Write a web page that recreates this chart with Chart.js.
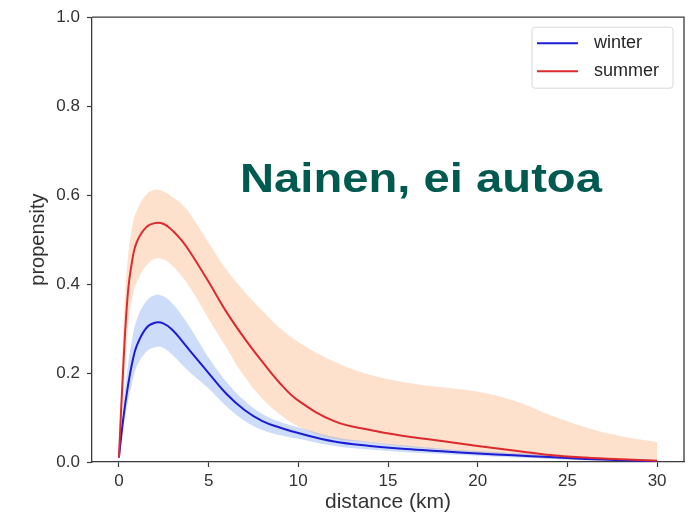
<!DOCTYPE html>
<html>
<head>
<meta charset="utf-8">
<script src="https://cdn.jsdelivr.net/npm/chart.js@4.4.1/dist/chart.umd.min.js"></script>
<style>
  html, body { margin: 0; padding: 0; background: #fff; }
  #wrap { position: relative; width: 690px; height: 521px; }
  #heading {
    position: absolute; left: 240px; top: 158px;
    font: bold 40px "Liberation Sans", Arial, sans-serif; line-height: 40px;
    color: #005a50; white-space: nowrap;
    transform: scaleX(1.18); transform-origin: left top;
  }
</style>
</head>
<body>
<div id="wrap">
  <canvas id="myChart" width="690" height="521"></canvas>
  <div id="heading">Nainen, ei autoa</div>
</div>
<script>
var distance = [0, 0.25, 0.5, 0.75, 1, 1.5, 2, 2.5, 3, 3.5, 4, 5, 6, 7, 8, 9, 10, 12, 14, 16, 18, 20, 22, 24, 26, 28, 30];

var winterMean  = [0.01, 0.1, 0.17, 0.225, 0.262, 0.3, 0.313, 0.311, 0.296, 0.273, 0.248, 0.2, 0.153, 0.117, 0.092, 0.077, 0.065, 0.046, 0.036, 0.029, 0.024, 0.019, 0.015, 0.011, 0.007, 0.004, 0.002];
var winterUpper = [0.012, 0.125, 0.215, 0.28, 0.32, 0.36, 0.375, 0.372, 0.355, 0.33, 0.3, 0.235, 0.18, 0.138, 0.108, 0.09, 0.078, 0.056, 0.045, 0.037, 0.03, 0.025, 0.02, 0.015, 0.01, 0.006, 0.003];
var winterLower = [0.006, 0.075, 0.135, 0.18, 0.215, 0.247, 0.258, 0.256, 0.24, 0.22, 0.2, 0.165, 0.125, 0.093, 0.072, 0.06, 0.052, 0.036, 0.028, 0.022, 0.018, 0.014, 0.01, 0.007, 0.004, 0.002, 0.001];

var summerMean  = [0.01, 0.22, 0.38, 0.455, 0.495, 0.527, 0.537, 0.535, 0.52, 0.498, 0.47, 0.405, 0.337, 0.278, 0.225, 0.176, 0.138, 0.092, 0.072, 0.058, 0.047, 0.036, 0.026, 0.016, 0.01, 0.006, 0.003];
var summerUpper = [0.015, 0.3, 0.46, 0.53, 0.565, 0.6, 0.612, 0.608, 0.595, 0.58, 0.556, 0.493, 0.432, 0.383, 0.34, 0.3, 0.27, 0.226, 0.196, 0.179, 0.168, 0.158, 0.138, 0.106, 0.078, 0.058, 0.045];
var summerLower = [0.005, 0.15, 0.3, 0.37, 0.405, 0.44, 0.457, 0.455, 0.44, 0.418, 0.39, 0.322, 0.256, 0.192, 0.142, 0.106, 0.08, 0.052, 0.044, 0.035, 0.027, 0.02, 0.013, 0.008, 0.004, 0.002, 0];

var xTicks = [0, 5, 10, 15, 20, 25, 30];
var yTicks = [0, 0.2, 0.4, 0.6, 0.8, 1.0];

var seriesNames = ['winter', 'summer'];

const FONT = '"Liberation Sans", Arial, sans-serif';
const AXIS = '#3a3a3a';

function points(values) {
    return values.map((v, i) => ({ x: distance[i], y: v }));
}

function band(values, color, fillTarget, order) {
    return {
        data: points(values),
        borderWidth: 0,
        pointRadius: 0,
        backgroundColor: color,
        fill: fillTarget,
        tension: 0.4,
        order: order,
        isBand: true
    };
}

function line(label, values, color, order) {
    return {
        label: label,
        data: points(values),
        borderColor: color,
        borderWidth: 2,
        pointRadius: 0,
        fill: false,
        tension: 0.4,
        order: order
    };
}

// top and right spines
const frame = {
    id: 'frame',
    afterDraw(chart) {
        const { ctx, chartArea: a } = chart;
        ctx.save();
        ctx.strokeStyle = AXIS;
        ctx.lineWidth = 1.3;
        ctx.beginPath();
        ctx.moveTo(a.left, a.top);
        ctx.lineTo(a.right, a.top);
        ctx.lineTo(a.right, a.bottom);
        ctx.stroke();
        ctx.restore();
    }
};

// legend box in the upper right corner of the plot
const cornerLegend = {
    id: 'cornerLegend',
    afterDraw(chart) {
        const { ctx, chartArea: a } = chart;
        const lines = chart.data.datasets.filter(d => !d.isBand);
        const x0 = a.right - 152, y0 = a.top + 10, w = 141, h = 61;
        ctx.save();
        ctx.fillStyle = 'rgba(255,255,255,0.85)';
        ctx.strokeStyle = '#d8d8d8';
        ctx.lineWidth = 1;
        ctx.beginPath();
        ctx.roundRect(x0, y0, w, h, 3);
        ctx.fill();
        ctx.stroke();
        ctx.font = '18px ' + FONT;
        ctx.textBaseline = 'middle';
        lines.forEach((d, i) => {
            const y = y0 + 16 + i * 28;
            ctx.strokeStyle = d.borderColor;
            ctx.lineWidth = 2;
            ctx.beginPath();
            ctx.moveTo(x0 + 5, y);
            ctx.lineTo(x0 + 46, y);
            ctx.stroke();
            ctx.fillStyle = '#262626';
            ctx.fillText(d.label, x0 + 62, y);
        });
        ctx.restore();
    }
};

const ctx = document.getElementById('myChart');

new Chart(ctx, {
    type: 'line',
    data: {
        datasets: [
            band(summerLower, 'rgba(250,180,130,0.4)', false, 4),
            band(summerUpper, 'rgba(250,180,130,0.4)', '-1', 4),
            band(winterLower, 'rgba(90,140,235,0.3)', false, 3),
            band(winterUpper, 'rgba(90,140,235,0.3)', '-1', 3),
            line(seriesNames[0], winterMean, '#1c1cd2', 1),
            line(seriesNames[1], summerMean, '#dc2a2e', 0)
        ]
    },
    plugins: [frame, cornerLegend],
    options: {
        responsive: false,
        animation: false,
        layout: { padding: { top: 17, right: 6, left: 0, bottom: 0 } },
        plugins: {
            legend: { display: false },
            tooltip: { enabled: false }
        },
        scales: {
            x: {
                type: 'linear',
                min: -1.5,
                max: 31.5,
                afterBuildTicks: s => { s.ticks = xTicks.map(v => ({ value: v })); },
                afterFit: s => { s.height = 59; },
                grid: { drawOnChartArea: false, drawTicks: true, tickLength: 5, tickColor: AXIS, tickWidth: 1.2 },
                border: { color: AXIS, width: 1.3 },
                ticks: { color: '#333', font: { family: FONT, size: 17 }, padding: 4, maxRotation: 0 },
                title: { display: true, text: 'distance (km)', color: '#333', font: { family: FONT, size: 21 }, padding: { bottom: 6 } }
            },
            y: {
                min: 0,
                max: 1,
                afterBuildTicks: s => { s.ticks = yTicks.map(v => ({ value: v })); },
                afterFit: s => { s.width = 92; },
                grid: { drawOnChartArea: false, drawTicks: true, tickLength: 5, tickColor: AXIS, tickWidth: 1.2 },
                border: { color: AXIS, width: 1.3 },
                ticks: { color: '#333', font: { family: FONT, size: 17 }, padding: 7, callback: v => v.toFixed(1) },
                title: { display: true, text: 'propensity', color: '#333', font: { family: FONT, size: 20 }, padding: { top: 26 } }
            }
        }
    }
});
</script>
</body>
</html>
